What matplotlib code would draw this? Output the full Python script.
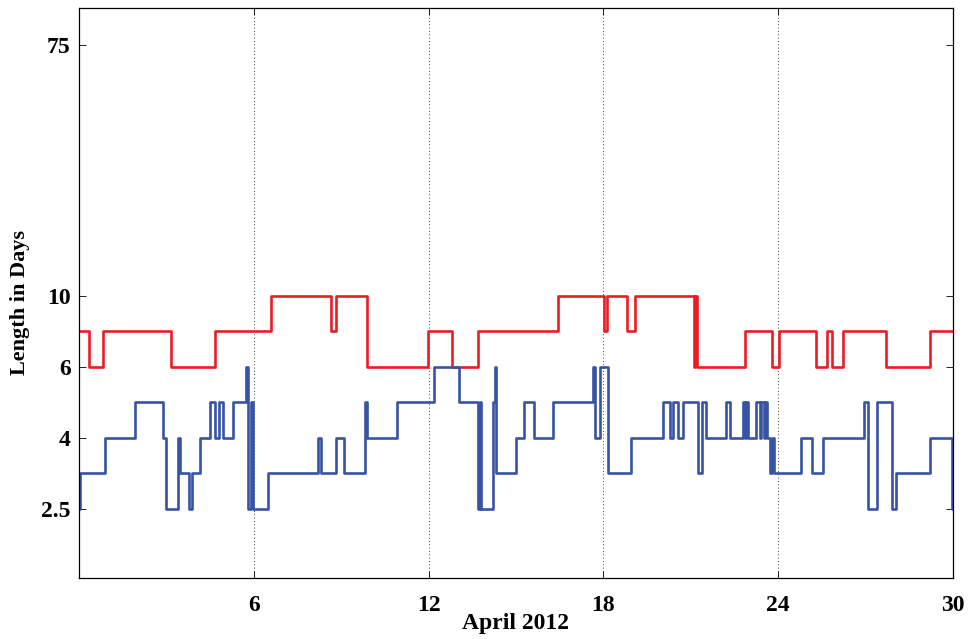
import numpy as np
import matplotlib
matplotlib.use("Agg")
import matplotlib.pyplot as plt

# Change points (day of April 2012, length in days); each value holds until the next time
red_t = [0, 0.34, 0.82, 3.16, 4.68, 6.59, 8.66, 8.83, 9.90, 11.98, 12.82, 13.69,
         16.43, 18.03, 18.12, 18.80, 19.09, 21.10, 21.15, 21.20, 22.86, 23.78,
         24.03, 25.29, 25.69, 25.84, 26.24, 27.70, 29.20, 30.0]
red_v = [8, 6, 8, 6, 8, 10, 8, 10, 6, 8, 6, 8,
         10, 8, 10, 8, 10, 6, 10, 6, 8, 6,
         8, 6, 8, 6, 8, 6, 8, 8]

blue_t = [0, 0.05, 0.91, 1.91, 2.87, 2.97, 3.39, 3.48, 3.78, 3.88, 4.17, 4.51,
          4.68, 4.80, 4.95, 5.27, 5.74, 5.80, 5.90, 5.97, 6.50, 8.20, 8.30,
          8.81, 9.11, 9.82, 9.88, 10.92, 12.17, 13.05, 13.69, 13.76, 13.80,
          14.20, 14.29, 14.33, 15.00, 15.29, 15.63, 16.26, 17.63, 17.72, 17.90,
          18.16, 18.95, 20.03, 20.30, 20.38, 20.55, 20.72, 21.24, 21.40, 21.52,
          22.21, 22.35, 22.79, 22.85, 22.90, 22.98, 23.24, 23.36, 23.41, 23.50,
          23.54, 23.62, 23.73, 23.78, 23.84, 24.78, 25.16, 25.55, 26.93, 27.09,
          27.39, 27.92, 28.06, 29.21, 29.98, 30.0]
blue_v = [2.5, 3, 4, 5, 4, 2.5, 4, 3, 2.5, 3, 4, 5,
          4, 5, 4, 5, 6, 2.5, 5, 2.5, 3, 4, 3,
          4, 3, 5, 4, 5, 6, 5, 2.5, 5, 2.5,
          5, 6, 3, 4, 5, 4, 5, 6, 4, 6,
          3, 4, 5, 4, 5, 4, 5, 3, 5, 4,
          5, 4, 5, 4, 5, 4, 5, 4, 5, 4,
          5, 4, 3, 4, 3, 4, 3, 4, 5, 2.5,
          5, 2.5, 3, 4, 2.5, 2.5]

y_ticks = [2.5, 4, 6, 10, 75]
x_ticks = [6, 12, 18, 24, 30]

# the y axis is not linear or log: each level gets its own slot
knot_days = [1.0, 2.5, 3, 4, 5, 6, 8, 10, 75, 100]
knot_pos = [-1.0, 0, 0.5, 1, 1.5, 2, 2.5, 3, 6.535, 7.5]

def fwd(v):
    return np.interp(v, knot_days, knot_pos)

def inv(p):
    return np.interp(p, knot_pos, knot_days)

plt.rcParams['font.family'] = 'Liberation Serif'
plt.rcParams['font.weight'] = 'bold'

fig = plt.figure(figsize=(9.69, 6.39), dpi=100)
ax = fig.add_axes([0.0815, 0.0955, 0.902, 0.892])

ax.plot(red_t, red_v, color='#ed1c24', lw=1.9, drawstyle='steps-post')
ax.plot(blue_t, blue_v, color='#3753a5', lw=1.9, drawstyle='steps-post')

ax.set_yscale('function', functions=(fwd, inv))
ax.set_ylim(inv(-0.972), inv(7.056))
ax.set_xlim(0, 30)

ax.set_yticks(y_ticks)
ax.set_yticklabels(['2.5', '4', '6', '10', '75'])
ax.set_xticks(x_ticks)
ax.minorticks_off()
ax.tick_params(direction='in', length=5, width=0.6, labelsize=17,
               top=True, right=True)
ax.tick_params(axis='y', pad=6)
ax.tick_params(axis='x', pad=12)

ax.xaxis.grid(True, linestyle=(0, (1, 3)), color='black', lw=0.6)

for s in ax.spines.values():
    s.set_linewidth(0.9)

ax.set_xlabel('April 2012', fontsize=17, fontweight='bold', labelpad=-2)
ax.set_ylabel('Length in Days', fontsize=16, fontweight='bold')
ax.yaxis.set_label_coords(-0.056, 0.484)

fig.savefig('out.png', dpi=100)
